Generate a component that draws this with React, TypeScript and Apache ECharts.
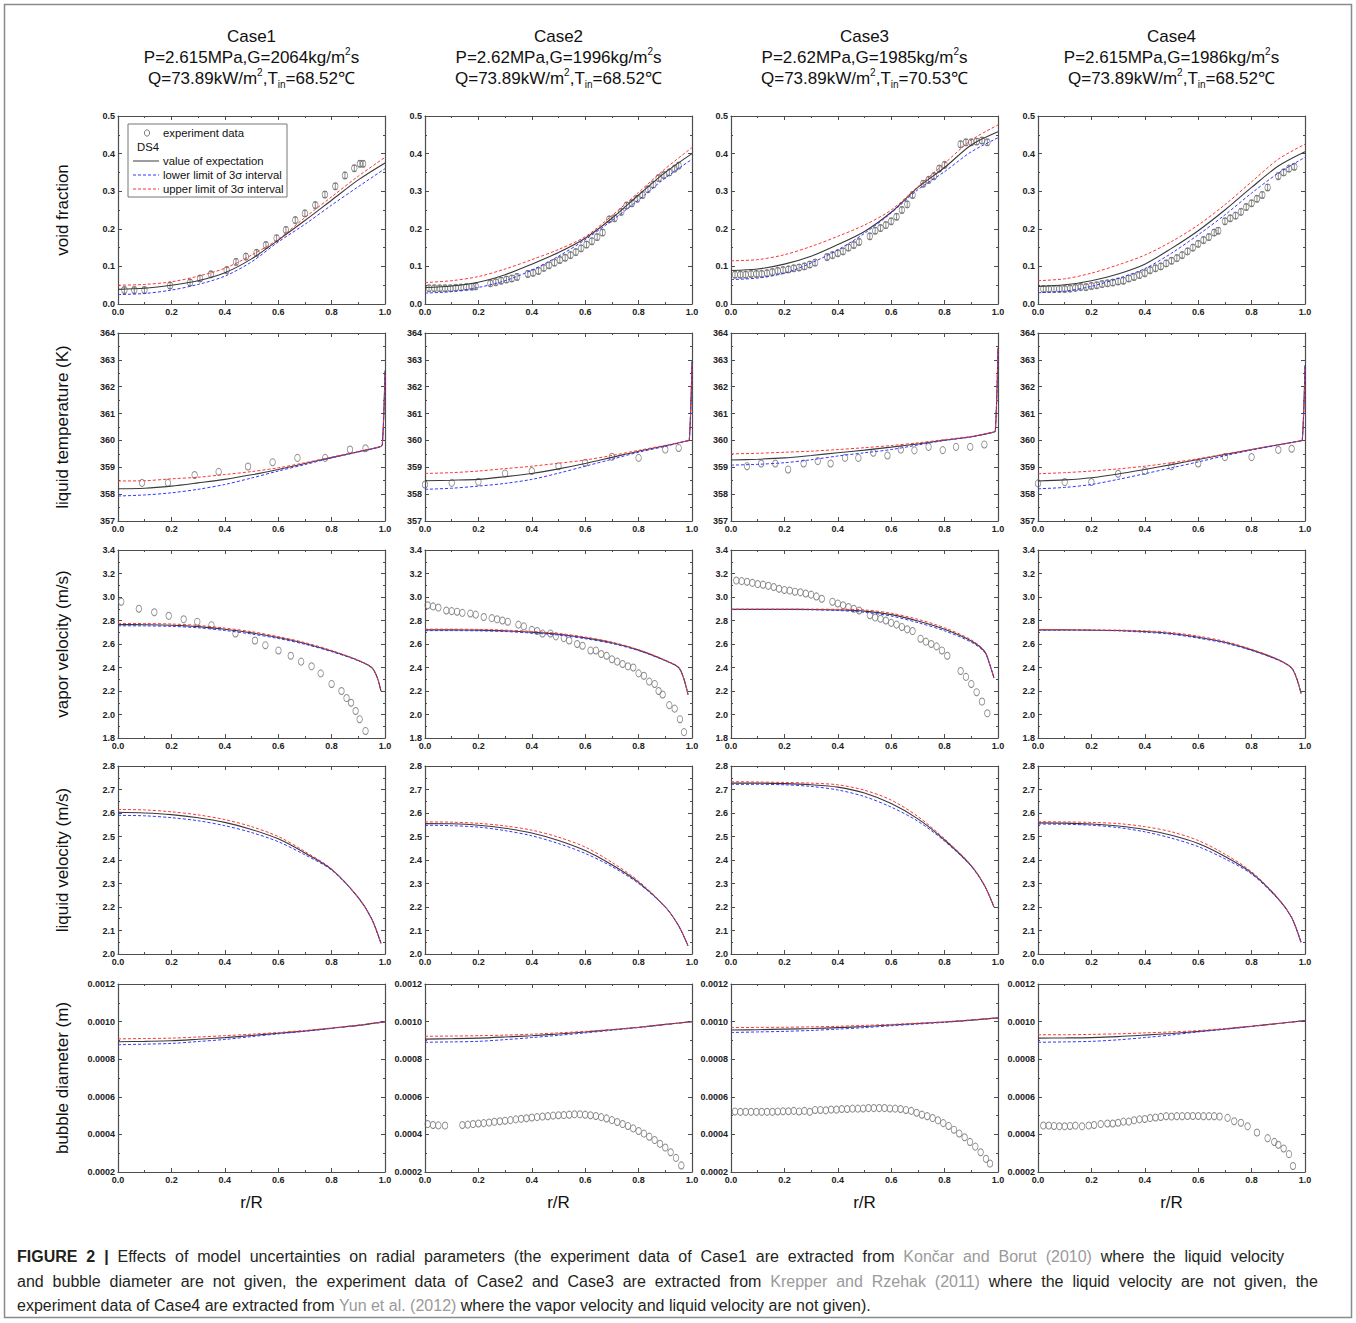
import React, { useEffect, useRef } from "react";
import * as echarts from "echarts";

const FONT = 'Arial, "Liberation Sans", Helvetica, sans-serif';

// ---------- column titles ----------
const CASE_NAMES = ["Case1", "Case2", "Case3", "Case4"];
const CASE_PG = ["P=2.615MPa,G=2064kg/m", "P=2.62MPa,G=1996kg/m", "P=2.62MPa,G=1985kg/m", "P=2.615MPa,G=1986kg/m"];
const CASE_Q = "Q=73.89kW/m";
const CASE_TIN = ["68.52", "68.52", "70.53", "68.52"];

// ---------- row definitions (axis titles & ticks) ----------
const ROW_NAMES = ["void fraction", "liquid temperature (K)", "vapor velocity (m/s)", "liquid velocity (m/s)", "bubble diameter (m)"];
const ROW_MIN = [0, 357, 1.8, 2.0, 0.0002];
const ROW_MAX = [0.5, 364, 3.4, 2.8, 0.0012];
const ROW_STEP = [0.1, 1, 0.2, 0.1, 0.0002];
const ROW_DEC = [1, 0, 1, 1, 4];
const X_TICKS_STEP = 0.2;

// ---------- radial positions of model curves ----------
const R_STD = [0, 0.1, 0.2, 0.3, 0.4, 0.5, 0.6, 0.7, 0.8, 0.9, 1.0];
const R_TEMP = [0, 0.1, 0.2, 0.3, 0.4, 0.5, 0.6, 0.7, 0.8, 0.9, 0.98, 0.99, 1.0];
const R_VAP = [0, 0.1, 0.2, 0.3, 0.4, 0.5, 0.6, 0.7, 0.8, 0.9, 0.95, 0.97, 0.985];
const R_LIQ = [0, 0.1, 0.2, 0.3, 0.4, 0.5, 0.6, 0.7, 0.8, 0.9, 0.95, 0.985];

// ---------- void fraction ----------
const voidExp1 = [0.039, 0.042, 0.05, 0.062, 0.083, 0.12, 0.17, 0.222, 0.276, 0.33, 0.375];
const voidLow1 = [0.025, 0.028, 0.037, 0.052, 0.074, 0.112, 0.165, 0.212, 0.263, 0.312, 0.36];
const voidUp1 = [0.05, 0.052, 0.059, 0.074, 0.095, 0.13, 0.172, 0.23, 0.285, 0.34, 0.39];
const voidExp2 = [0.044, 0.048, 0.058, 0.078, 0.106, 0.137, 0.175, 0.228, 0.29, 0.35, 0.4];
const voidLow2 = [0.029, 0.033, 0.044, 0.062, 0.09, 0.127, 0.171, 0.222, 0.277, 0.335, 0.385];
const voidUp2 = [0.057, 0.062, 0.073, 0.093, 0.118, 0.145, 0.179, 0.235, 0.297, 0.36, 0.416];
const voidExp3 = [0.089, 0.093, 0.106, 0.127, 0.158, 0.193, 0.244, 0.31, 0.363, 0.423, 0.458];
const voidLow3 = [0.065, 0.069, 0.082, 0.109, 0.144, 0.188, 0.242, 0.304, 0.352, 0.405, 0.442];
const voidUp3 = [0.115, 0.118, 0.131, 0.153, 0.18, 0.21, 0.25, 0.312, 0.374, 0.436, 0.476];
const voidExp4 = [0.047, 0.051, 0.062, 0.08, 0.106, 0.148, 0.195, 0.25, 0.31, 0.367, 0.405];
const voidLow4 = [0.03, 0.034, 0.047, 0.068, 0.094, 0.135, 0.184, 0.237, 0.295, 0.348, 0.39];
const voidUp4 = [0.062, 0.067, 0.082, 0.104, 0.13, 0.166, 0.21, 0.264, 0.325, 0.385, 0.425];

const voidDataX1 = [0.024, 0.061, 0.099, 0.195, 0.27, 0.307, 0.348, 0.407, 0.442, 0.479, 0.519, 0.554, 0.594, 0.629, 0.664, 0.7, 0.739, 0.775, 0.814, 0.85, 0.885, 0.906, 0.918];
const voidDataY1 = [0.037, 0.037, 0.037, 0.049, 0.057, 0.068, 0.079, 0.09, 0.112, 0.126, 0.136, 0.157, 0.175, 0.197, 0.223, 0.241, 0.263, 0.291, 0.313, 0.342, 0.361, 0.373, 0.373];
const voidDataX2 = [0.015, 0.035, 0.055, 0.075, 0.095, 0.115, 0.135, 0.155, 0.175, 0.19, 0.245, 0.265, 0.285, 0.305, 0.325, 0.345, 0.385, 0.405, 0.425, 0.445, 0.465, 0.485, 0.505, 0.525, 0.545, 0.565, 0.585, 0.605, 0.625, 0.645, 0.665, 0.69, 0.71, 0.735, 0.755, 0.775, 0.795, 0.815, 0.835, 0.855, 0.875, 0.895, 0.915, 0.935, 0.95];
const voidDataY2 = [0.042, 0.042, 0.042, 0.042, 0.042, 0.043, 0.044, 0.045, 0.046, 0.047, 0.055, 0.058, 0.062, 0.065, 0.068, 0.072, 0.08, 0.083, 0.088, 0.096, 0.103, 0.11, 0.117, 0.123, 0.13, 0.138, 0.148, 0.158, 0.167, 0.178, 0.19, 0.225, 0.228, 0.245, 0.262, 0.268, 0.28, 0.29, 0.305, 0.318, 0.335, 0.343, 0.35, 0.36, 0.368];
const voidDataX3 = [0.015, 0.035, 0.055, 0.075, 0.095, 0.115, 0.135, 0.155, 0.175, 0.195, 0.215, 0.235, 0.255, 0.275, 0.295, 0.315, 0.36, 0.38, 0.4, 0.42, 0.44, 0.46, 0.48, 0.52, 0.54, 0.56, 0.58, 0.6, 0.62, 0.64, 0.66, 0.68, 0.72, 0.74, 0.76, 0.78, 0.8, 0.86, 0.88, 0.9, 0.92, 0.94, 0.96];
const voidDataY3 = [0.078, 0.078, 0.078, 0.08, 0.08, 0.08, 0.082, 0.085, 0.088, 0.09, 0.092, 0.095, 0.097, 0.1, 0.105, 0.11, 0.125, 0.13, 0.135, 0.14, 0.15, 0.157, 0.165, 0.18, 0.195, 0.202, 0.21, 0.22, 0.232, 0.25, 0.265, 0.29, 0.32, 0.33, 0.34, 0.36, 0.37, 0.425, 0.43, 0.43, 0.432, 0.435, 0.43];
const voidDataX4 = [0.02, 0.04, 0.06, 0.08, 0.1, 0.12, 0.14, 0.16, 0.18, 0.2, 0.22, 0.24, 0.26, 0.28, 0.3, 0.32, 0.34, 0.36, 0.38, 0.4, 0.42, 0.44, 0.46, 0.48, 0.5, 0.52, 0.54, 0.56, 0.58, 0.6, 0.62, 0.64, 0.66, 0.675, 0.7, 0.72, 0.74, 0.76, 0.78, 0.8, 0.82, 0.84, 0.86, 0.9, 0.92, 0.94, 0.96];
const voidDataY4 = [0.04, 0.04, 0.04, 0.04, 0.04, 0.041, 0.043, 0.045, 0.045, 0.048, 0.05, 0.053, 0.055, 0.057, 0.06, 0.062, 0.068, 0.072, 0.077, 0.082, 0.09, 0.095, 0.1, 0.108, 0.115, 0.122, 0.13, 0.14, 0.15, 0.16, 0.17, 0.178, 0.19, 0.195, 0.22, 0.228, 0.235, 0.245, 0.258, 0.268, 0.28, 0.29, 0.31, 0.34, 0.35, 0.36, 0.365];
const VOID_ERR = 0.008;

// ---------- liquid temperature ----------
const tempExp1 = [358.2, 358.22, 358.3, 358.42, 358.55, 358.72, 358.92, 359.14, 359.36, 359.58, 359.76, 359.84, 362.6];
const tempLow1 = [357.93, 357.97, 358.05, 358.18, 358.36, 358.6, 358.86, 359.1, 359.35, 359.57, 359.76, 359.84, 362.5];
const tempUp1 = [358.49, 358.5, 358.57, 358.63, 358.73, 358.84, 358.98, 359.17, 359.38, 359.59, 359.76, 359.84, 362.5];
const tempExp2 = [358.5, 358.52, 358.55, 358.65, 358.77, 358.94, 359.14, 359.37, 359.6, 359.8, 359.98, 360.02, 362.95];
const tempLow2 = [358.18, 358.22, 358.3, 358.4, 358.55, 358.78, 359.04, 359.3, 359.56, 359.78, 359.98, 360.02, 362.9];
const tempUp2 = [358.77, 358.8, 358.86, 358.95, 359.04, 359.15, 359.27, 359.44, 359.63, 359.82, 359.98, 360.02, 362.9];
const tempExp3 = [359.27, 359.3, 359.35, 359.44, 359.54, 359.64, 359.75, 359.87, 360.01, 360.14, 360.3, 360.35, 363.45];
const tempLow3 = [359.08, 359.11, 359.17, 359.28, 359.42, 359.54, 359.66, 359.83, 360.0, 360.13, 360.3, 360.35, 363.4];
const tempUp3 = [359.5, 359.52, 359.56, 359.6, 359.66, 359.73, 359.81, 359.91, 360.03, 360.15, 360.3, 360.35, 363.4];
const tempExp4 = [358.49, 358.53, 358.61, 358.75, 358.92, 359.1, 359.29, 359.48, 359.66, 359.84, 359.98, 360.02, 362.8];
const tempLow4 = [358.2, 358.25, 358.36, 358.55, 358.76, 358.98, 359.2, 359.43, 359.64, 359.83, 359.98, 360.02, 362.75];
const tempUp4 = [358.76, 358.8, 358.86, 358.94, 359.04, 359.17, 359.32, 359.49, 359.66, 359.84, 359.98, 360.02, 362.75];

const tempDataX1 = [0.09, 0.187, 0.287, 0.377, 0.487, 0.579, 0.672, 0.776, 0.869, 0.927];
const tempDataY1 = [358.42, 358.42, 358.71, 358.83, 359.03, 359.19, 359.35, 359.35, 359.66, 359.71];
const tempDataX2 = [0.0, 0.1, 0.2, 0.3, 0.4, 0.5, 0.6, 0.7, 0.8, 0.9, 0.95];
const tempDataY2 = [358.36, 358.42, 358.46, 358.77, 358.86, 359.04, 359.17, 359.39, 359.35, 359.66, 359.72];
const tempDataX3 = [0.06, 0.113, 0.166, 0.214, 0.272, 0.325, 0.373, 0.427, 0.477, 0.533, 0.586, 0.636, 0.687, 0.74, 0.793, 0.843, 0.896, 0.949];
const tempDataY3 = [359.04, 359.14, 359.14, 358.92, 359.14, 359.23, 359.14, 359.35, 359.35, 359.54, 359.44, 359.66, 359.63, 359.76, 359.64, 359.76, 359.76, 359.85];
const tempDataX4 = [0.0, 0.1, 0.2, 0.3, 0.4, 0.5, 0.6, 0.7, 0.8, 0.9, 0.95];
const tempDataY4 = [358.4, 358.45, 358.45, 358.76, 358.86, 359.04, 359.14, 359.38, 359.38, 359.65, 359.69];

// ---------- vapor velocity ----------
const vapExp1 = [2.765, 2.764, 2.76, 2.748, 2.725, 2.695, 2.655, 2.605, 2.54, 2.46, 2.4, 2.32, 2.2];
const vapLow1 = [2.755, 2.754, 2.75, 2.738, 2.715, 2.685, 2.647, 2.598, 2.535, 2.458, 2.4, 2.32, 2.2];
const vapUp1 = [2.775, 2.774, 2.77, 2.758, 2.735, 2.705, 2.663, 2.612, 2.545, 2.462, 2.4, 2.32, 2.2];
const vapExp2 = [2.72, 2.72, 2.718, 2.712, 2.7, 2.683, 2.652, 2.61, 2.548, 2.46, 2.4, 2.3, 2.17];
const vapLow2 = [2.714, 2.714, 2.712, 2.706, 2.693, 2.676, 2.645, 2.604, 2.544, 2.458, 2.4, 2.3, 2.17];
const vapUp2 = [2.726, 2.726, 2.724, 2.718, 2.707, 2.69, 2.659, 2.616, 2.552, 2.462, 2.4, 2.3, 2.17];
const vapExp3 = [2.895, 2.895, 2.895, 2.894, 2.89, 2.88, 2.85, 2.795, 2.725, 2.625, 2.535, 2.42, 2.31];
const vapLow3 = [2.893, 2.893, 2.893, 2.891, 2.885, 2.87, 2.838, 2.782, 2.712, 2.615, 2.53, 2.42, 2.31];
const vapUp3 = [2.897, 2.897, 2.897, 2.897, 2.895, 2.89, 2.862, 2.81, 2.738, 2.635, 2.54, 2.42, 2.31];
const vapExp4 = [2.72, 2.72, 2.718, 2.715, 2.706, 2.69, 2.658, 2.615, 2.55, 2.465, 2.395, 2.3, 2.18];
const vapLow4 = [2.718, 2.718, 2.716, 2.712, 2.7, 2.683, 2.65, 2.608, 2.545, 2.462, 2.395, 2.3, 2.18];
const vapUp4 = [2.722, 2.722, 2.72, 2.718, 2.712, 2.697, 2.667, 2.622, 2.555, 2.468, 2.395, 2.3, 2.18];

const vapDataX1 = [0.012, 0.078, 0.136, 0.19, 0.246, 0.297, 0.35, 0.44, 0.513, 0.552, 0.601, 0.647, 0.686, 0.725, 0.759, 0.8, 0.837, 0.856, 0.873, 0.89, 0.905, 0.927];
const vapDataY1 = [2.96, 2.9, 2.87, 2.84, 2.81, 2.79, 2.76, 2.69, 2.63, 2.59, 2.545, 2.5, 2.45, 2.41, 2.35, 2.26, 2.2, 2.14, 2.1, 2.03, 1.96, 1.86];
const vapDataX2 = [0.01, 0.03, 0.05, 0.08, 0.1, 0.12, 0.14, 0.17, 0.19, 0.22, 0.25, 0.27, 0.29, 0.31, 0.35, 0.37, 0.4, 0.42, 0.44, 0.47, 0.49, 0.52, 0.54, 0.57, 0.59, 0.62, 0.64, 0.66, 0.68, 0.7, 0.72, 0.74, 0.76, 0.78, 0.8, 0.82, 0.84, 0.86, 0.875, 0.89, 0.915, 0.935, 0.955, 0.97];
const vapDataY2 = [2.93, 2.92, 2.91, 2.885, 2.88, 2.875, 2.865, 2.86, 2.85, 2.83, 2.82, 2.81, 2.8, 2.79, 2.765, 2.75, 2.72, 2.71, 2.69, 2.69, 2.665, 2.65, 2.63, 2.6, 2.585, 2.545, 2.545, 2.515, 2.5, 2.47, 2.45, 2.43, 2.41, 2.4, 2.35, 2.33, 2.28, 2.26, 2.2, 2.17, 2.08, 2.05, 1.96, 1.85];
const vapDataX3 = [0.02, 0.04, 0.06, 0.08, 0.1, 0.12, 0.14, 0.16, 0.18, 0.2, 0.22, 0.24, 0.26, 0.28, 0.3, 0.32, 0.34, 0.38, 0.4, 0.42, 0.44, 0.46, 0.48, 0.52, 0.54, 0.56, 0.58, 0.6, 0.62, 0.64, 0.66, 0.68, 0.71, 0.73, 0.75, 0.77, 0.79, 0.81, 0.86, 0.88, 0.9, 0.92, 0.94, 0.96];
const vapDataY3 = [3.14, 3.135, 3.13, 3.12, 3.11, 3.105, 3.095, 3.085, 3.07, 3.06, 3.055, 3.045, 3.04, 3.03, 3.02, 3.005, 2.985, 2.96, 2.945, 2.93, 2.915, 2.9, 2.885, 2.845, 2.825, 2.815, 2.8, 2.78, 2.765, 2.745, 2.725, 2.71, 2.645, 2.62, 2.6, 2.58, 2.545, 2.5, 2.37, 2.32, 2.26, 2.19, 2.11, 2.01];

// ---------- liquid velocity ----------
const liqExp1 = [2.603, 2.6, 2.593, 2.58, 2.56, 2.53, 2.49, 2.43, 2.36, 2.24, 2.15, 2.045];
const liqLow1 = [2.59, 2.588, 2.58, 2.567, 2.546, 2.517, 2.478, 2.422, 2.357, 2.24, 2.15, 2.045];
const liqUp1 = [2.615, 2.613, 2.605, 2.592, 2.572, 2.542, 2.5, 2.436, 2.362, 2.24, 2.15, 2.045];
const liqExp2 = [2.555, 2.554, 2.548, 2.535, 2.515, 2.483, 2.44, 2.38, 2.305, 2.2, 2.12, 2.035];
const liqLow2 = [2.548, 2.546, 2.54, 2.525, 2.503, 2.47, 2.428, 2.372, 2.3, 2.2, 2.12, 2.035];
const liqUp2 = [2.562, 2.561, 2.556, 2.545, 2.527, 2.497, 2.455, 2.39, 2.31, 2.2, 2.12, 2.035];
const liqExp3 = [2.727, 2.727, 2.725, 2.72, 2.71, 2.685, 2.64, 2.575, 2.485, 2.375, 2.29, 2.2];
const liqLow3 = [2.722, 2.722, 2.72, 2.713, 2.698, 2.67, 2.625, 2.565, 2.48, 2.373, 2.29, 2.2];
const liqUp3 = [2.733, 2.732, 2.73, 2.727, 2.72, 2.697, 2.655, 2.585, 2.49, 2.377, 2.29, 2.2];
const liqExp4 = [2.558, 2.557, 2.553, 2.545, 2.53, 2.505, 2.47, 2.415, 2.345, 2.235, 2.155, 2.05];
const liqLow4 = [2.553, 2.552, 2.548, 2.538, 2.52, 2.493, 2.457, 2.405, 2.34, 2.233, 2.155, 2.05];
const liqUp4 = [2.563, 2.562, 2.56, 2.555, 2.542, 2.52, 2.483, 2.425, 2.35, 2.237, 2.155, 2.05];

// ---------- bubble diameter ----------
const bubExp1 = [0.000893, 0.000895, 0.000898, 0.000906, 0.000915, 0.000926, 0.000938, 0.00095, 0.000965, 0.00098, 0.001];
const bubLow1 = [0.000877, 0.00088, 0.000884, 0.000894, 0.000905, 0.00092, 0.000935, 0.000948, 0.000964, 0.00098, 0.000998];
const bubUp1 = [0.000908, 0.00091, 0.000912, 0.000918, 0.000925, 0.000933, 0.000942, 0.000953, 0.000966, 0.000981, 0.001];
const bubExp2 = [0.000907, 0.000909, 0.000912, 0.000918, 0.000925, 0.000934, 0.000945, 0.000957, 0.00097, 0.000985, 0.001];
const bubLow2 = [0.00089, 0.000892, 0.000895, 0.000904, 0.000915, 0.000927, 0.00094, 0.000954, 0.000968, 0.000984, 0.001];
const bubUp2 = [0.000922, 0.000923, 0.000925, 0.000928, 0.000933, 0.00094, 0.000948, 0.000958, 0.00097, 0.000985, 0.001];
const bubExp3 = [0.000955, 0.000957, 0.00096, 0.000963, 0.000968, 0.000974, 0.000982, 0.00099, 0.000998, 0.001008, 0.00102];
const bubLow3 = [0.000942, 0.000945, 0.000948, 0.000953, 0.00096, 0.000968, 0.000978, 0.000987, 0.000996, 0.001007, 0.00102];
const bubUp3 = [0.000968, 0.000969, 0.00097, 0.000972, 0.000975, 0.00098, 0.000985, 0.000992, 0.000999, 0.001009, 0.00102];
const bubExp4 = [0.000912, 0.000913, 0.000915, 0.00092, 0.000928, 0.000937, 0.000948, 0.000961, 0.000975, 0.00099, 0.001005];
const bubLow4 = [0.00089, 0.000892, 0.000895, 0.000903, 0.000915, 0.000929, 0.000945, 0.000959, 0.000974, 0.00099, 0.001005];
const bubUp4 = [0.00093, 0.00093, 0.000932, 0.000935, 0.00094, 0.000945, 0.000952, 0.000963, 0.000976, 0.00099, 0.001005];

const bubDataX2 = [0.01, 0.03, 0.05, 0.075, 0.14, 0.16, 0.18, 0.2, 0.22, 0.24, 0.26, 0.28, 0.3, 0.32, 0.34, 0.36, 0.38, 0.4, 0.42, 0.44, 0.46, 0.48, 0.5, 0.52, 0.54, 0.56, 0.58, 0.6, 0.62, 0.64, 0.66, 0.68, 0.7, 0.72, 0.74, 0.76, 0.78, 0.8, 0.82, 0.84, 0.86, 0.88, 0.9, 0.92, 0.94, 0.96];
const bubDataY2 = [0.000455, 0.00045, 0.000448, 0.000447, 0.00045, 0.000452, 0.000455, 0.000458, 0.00046, 0.000463, 0.000467, 0.00047, 0.000473, 0.000476, 0.00048, 0.000483, 0.000486, 0.00049, 0.000492, 0.000495, 0.000497, 0.0005, 0.000502, 0.000503, 0.000505, 0.000507, 0.000507, 0.000505, 0.000502, 0.000498, 0.000492, 0.000485, 0.000476, 0.000466, 0.000455, 0.000445, 0.000432, 0.000418, 0.000404, 0.000388, 0.00037, 0.00035, 0.00033, 0.000305, 0.000275, 0.000235];
const bubDataX3 = [0.015, 0.035, 0.055, 0.075, 0.095, 0.115, 0.135, 0.155, 0.175, 0.195, 0.215, 0.235, 0.255, 0.275, 0.295, 0.315, 0.335, 0.355, 0.375, 0.395, 0.415, 0.435, 0.455, 0.475, 0.495, 0.515, 0.535, 0.555, 0.575, 0.595, 0.615, 0.635, 0.655, 0.675, 0.695, 0.715, 0.735, 0.755, 0.775, 0.795, 0.815, 0.835, 0.855, 0.875, 0.895, 0.915, 0.935, 0.955, 0.97];
const bubDataY3 = [0.000522, 0.00052, 0.00052, 0.00052, 0.00052, 0.00052, 0.00052, 0.00052, 0.000522, 0.000523, 0.000523, 0.000525, 0.000522, 0.000525, 0.00052, 0.00053, 0.00053, 0.000528, 0.000532, 0.000532, 0.000535, 0.000535, 0.000537, 0.000537, 0.000538, 0.00054, 0.00054, 0.00054, 0.00054, 0.000538, 0.000537, 0.000535, 0.00053, 0.000525, 0.000515, 0.000505, 0.000497, 0.000487, 0.000475, 0.00046, 0.000445, 0.000425, 0.000405, 0.000385, 0.00036, 0.000335, 0.000305, 0.00027, 0.000245];
const bubDataX4 = [0.02, 0.04, 0.06, 0.08, 0.1, 0.12, 0.14, 0.165, 0.19, 0.21, 0.235, 0.26, 0.28, 0.3, 0.32, 0.34, 0.36, 0.38, 0.4, 0.42, 0.44, 0.46, 0.48, 0.5, 0.52, 0.54, 0.56, 0.58, 0.6, 0.62, 0.64, 0.66, 0.68, 0.71, 0.735, 0.76, 0.785, 0.82, 0.86, 0.885, 0.9, 0.92, 0.94, 0.955];
const bubDataY4 = [0.000447, 0.000447, 0.000445, 0.000443, 0.000443, 0.000445, 0.000447, 0.000443, 0.000447, 0.00045, 0.000455, 0.000458, 0.000458, 0.000462, 0.000468, 0.000468, 0.000475, 0.00048, 0.000482, 0.000487, 0.00049, 0.000493, 0.000497, 0.000495, 0.000497, 0.000497, 0.000498, 0.000498, 0.000498, 0.000497, 0.000497, 0.000497, 0.000495, 0.000488, 0.00047, 0.000462, 0.000443, 0.00041, 0.00038, 0.00036, 0.000345, 0.000325, 0.000295, 0.000232];

// ---------- legend & caption texts ----------
const LEGEND_LABELS = ["experiment data", "DS4", "value of expectation", "lower limit of 3σ interval", "upper limit of 3σ interval"];
const CAPTION_1 = "{b|FIGURE 2 |} Effects of model uncertainties on radial parameters (the experiment data of Case1 are extracted from {g|Končar and Borut (2010)} where the liquid velocity";
const CAPTION_2 = "and bubble diameter are not given, the experiment data of Case2 and Case3 are extracted from {g|Krepper and Rzehak (2011)} where the liquid velocity are not given, the";
const CAPTION_3 = "experiment data of Case4 are extracted from {g|Yun et al. (2012)} where the vapor velocity and liquid velocity are not given).";

// ---------- assembled tables ----------
const CURVE_X = [R_STD, R_TEMP, R_VAP, R_LIQ, R_STD];
const CURVE_EXP = [
  [voidExp1, voidExp2, voidExp3, voidExp4],
  [tempExp1, tempExp2, tempExp3, tempExp4],
  [vapExp1, vapExp2, vapExp3, vapExp4],
  [liqExp1, liqExp2, liqExp3, liqExp4],
  [bubExp1, bubExp2, bubExp3, bubExp4],
];
const CURVE_LOW = [
  [voidLow1, voidLow2, voidLow3, voidLow4],
  [tempLow1, tempLow2, tempLow3, tempLow4],
  [vapLow1, vapLow2, vapLow3, vapLow4],
  [liqLow1, liqLow2, liqLow3, liqLow4],
  [bubLow1, bubLow2, bubLow3, bubLow4],
];
const CURVE_UP = [
  [voidUp1, voidUp2, voidUp3, voidUp4],
  [tempUp1, tempUp2, tempUp3, tempUp4],
  [vapUp1, vapUp2, vapUp3, vapUp4],
  [liqUp1, liqUp2, liqUp3, liqUp4],
  [bubUp1, bubUp2, bubUp3, bubUp4],
];
const DATA_X: (number[] | null)[][] = [
  [voidDataX1, voidDataX2, voidDataX3, voidDataX4],
  [tempDataX1, tempDataX2, tempDataX3, tempDataX4],
  [vapDataX1, vapDataX2, vapDataX3, null],
  [null, null, null, null],
  [null, bubDataX2, bubDataX3, bubDataX4],
];
const DATA_Y: (number[] | null)[][] = [
  [voidDataY1, voidDataY2, voidDataY3, voidDataY4],
  [tempDataY1, tempDataY2, tempDataY3, tempDataY4],
  [vapDataY1, vapDataY2, vapDataY3, null],
  [null, null, null, null],
  [null, bubDataY2, bubDataY3, bubDataY4],
];

// ---------- layout ----------
const COL_LEFT = [118, 425, 731, 1038];
const ROW_TOP = [116, 333, 550, 766, 984];
const PW = 267;
const PH = 188;
const AXIS_COLOR = "#4d4d4d";
const C_EXP = "#3a3a3a";
const C_LOW = "#3535ff";
const C_UP = "#ff3535";
const C_DATA = "#6e6e6e";

const zip = (xs: number[], ys: number[]) => xs.map((x, i) => [x, ys[i]]);
// justified caption lines: widen inter-word spacing
const justify = (s: string) => s.split(" ").join("  ");

function buildOption() {
  const grid: any[] = [];
  const xAxis: any[] = [];
  const yAxis: any[] = [];
  const series: any[] = [];
  const lineStyle = { color: AXIS_COLOR, width: 1.2 };
  const tickStyle = { color: AXIS_COLOR, width: 1 };
  const labelStyle = { fontSize: 9, fontWeight: "bold", color: "#222", fontFamily: FONT };

  for (let r = 0; r < 5; r++) {
    for (let c = 0; c < 4; c++) {
      const g = r * 4 + c;
      grid.push({ left: COL_LEFT[c], top: ROW_TOP[r], width: PW, height: PH });
      const xCommon = {
        type: "value", gridIndex: g, min: 0, max: 1, interval: X_TICKS_STEP,
        axisLine: { show: true, onZero: false, lineStyle },
        axisTick: { show: true, inside: true, length: 4, lineStyle: tickStyle },
        minorTick: { show: true, splitNumber: 2, length: 2, lineStyle: tickStyle },
        splitLine: { show: false },
      };
      xAxis.push({
        ...xCommon, position: "bottom",
        axisLabel: { ...labelStyle, margin: 3, formatter: (v: number) => v.toFixed(1) },
        name: r === 4 ? "r/R" : "", nameLocation: "middle", nameGap: 22,
        nameTextStyle: { fontSize: 17, color: "#111", fontFamily: FONT },
      });
      xAxis.push({ ...xCommon, position: "top", axisLabel: { show: false } });
      const yCommon = {
        type: "value", gridIndex: g, min: ROW_MIN[r], max: ROW_MAX[r], interval: ROW_STEP[r],
        axisLine: { show: true, onZero: false, lineStyle },
        axisTick: { show: true, inside: true, length: 4, lineStyle: tickStyle },
        minorTick: { show: true, splitNumber: 2, length: 2, lineStyle: tickStyle },
        splitLine: { show: false },
      };
      const dec = ROW_DEC[r];
      yAxis.push({
        ...yCommon, position: "left",
        axisLabel: { ...labelStyle, margin: 3, formatter: (v: number) => v.toFixed(dec) },
        name: c === 0 ? ROW_NAMES[r] : "", nameLocation: "middle", nameRotate: 90, nameGap: 47,
        nameTextStyle: { fontSize: 17, color: "#111", fontFamily: FONT },
      });
      yAxis.push({ ...yCommon, position: "right", axisLabel: { show: false } });

      const xi = 2 * g;
      const xs = CURVE_X[r];
      const common = { type: "line", xAxisIndex: xi, yAxisIndex: xi, symbol: "none", showSymbol: false, smooth: 0.3, silent: true, clip: true };
      series.push({ ...common, name: "exp", data: zip(xs, CURVE_EXP[r][c]), lineStyle: { color: C_EXP, width: 1.1 }, z: 3 });
      series.push({ ...common, name: "low", data: zip(xs, CURVE_LOW[r][c]), lineStyle: { color: C_LOW, width: 1, type: [3, 2] }, z: 4 });
      series.push({ ...common, name: "up", data: zip(xs, CURVE_UP[r][c]), lineStyle: { color: C_UP, width: 1, type: [3, 2] }, z: 5 });

      const dx = DATA_X[r][c];
      const dy = DATA_Y[r][c];
      if (dx && dy) {
        series.push({
          type: "scatter", xAxisIndex: xi, yAxisIndex: xi, silent: true,
          symbol: "circle", symbolSize: [5.5, 7],
          itemStyle: { color: "rgba(0,0,0,0)", borderColor: C_DATA, borderWidth: 0.9 },
          data: zip(dx, dy), z: 2,
        });
        if (r === 0) {
          series.push({
            type: "custom", xAxisIndex: xi, yAxisIndex: xi, silent: true, z: 2,
            encode: { x: 0, y: 1 },
            data: dx.map((x, i) => [x, dy[i], VOID_ERR]),
            renderItem: (params: any, api: any) => {
              const x = api.value(0);
              const y = api.value(1);
              const e = api.value(2);
              const p1 = api.coord([x, y + e]);
              const p2 = api.coord([x, y - e]);
              const st = { stroke: C_DATA, lineWidth: 0.8 };
              return {
                type: "group",
                children: [
                  { type: "line", shape: { x1: p1[0], y1: p1[1], x2: p2[0], y2: p2[1] }, style: st },
                  { type: "line", shape: { x1: p1[0] - 2, y1: p1[1], x2: p1[0] + 2, y2: p1[1] }, style: st },
                  { type: "line", shape: { x1: p2[0] - 2, y1: p2[1], x2: p2[0] + 2, y2: p2[1] }, style: st },
                ],
              };
            },
          });
        }
      }
    }
  }

  const graphic: any[] = [];
  // outer frame
  graphic.push({ type: "rect", shape: { x: 4.5, y: 4.5, width: 1347, height: 1313 }, style: { fill: "none", stroke: "#8a8a8a", lineWidth: 1.5 }, silent: true });
  // column titles
  const titleRich = {
    sup: { fontSize: 10, lineHeight: 22, verticalAlign: "top", fontFamily: FONT, fill: "#111" },
    sub: { fontSize: 10, lineHeight: 22, verticalAlign: "bottom", fontFamily: FONT, fill: "#111" },
  };
  for (let c = 0; c < 4; c++) {
    const cx = COL_LEFT[c] + PW / 2;
    const base = { fontSize: 17, fontFamily: FONT, fill: "#111", align: "center", textAlign: "center", verticalAlign: "middle", textVerticalAlign: "middle", lineHeight: 22 };
    graphic.push({ type: "text", x: cx, y: 36, style: { ...base, text: CASE_NAMES[c] }, silent: true });
    graphic.push({ type: "text", x: cx, y: 57, style: { ...base, text: CASE_PG[c] + "{sup|2}s", rich: titleRich }, silent: true });
    graphic.push({ type: "text", x: cx, y: 78, style: { ...base, text: CASE_Q + "{sup|2},T{sub|in}=" + CASE_TIN[c] + "℃", rich: titleRich }, silent: true });
  }
  // legend inside first panel
  const lx = 128, ly = 124;
  const lt = { fontSize: 11.3, fontFamily: FONT, fill: "#111", verticalAlign: "middle", textVerticalAlign: "middle", align: "left", textAlign: "left" };
  graphic.push({ type: "rect", shape: { x: lx, y: ly, width: 159, height: 73 }, style: { fill: "#fff", stroke: "#777", lineWidth: 1 }, z: 100, silent: true });
  graphic.push({ type: "ellipse", shape: { cx: 147, cy: 133, rx: 2.6, ry: 3.2 }, style: { fill: "none", stroke: C_DATA, lineWidth: 0.9 }, z: 101, silent: true });
  graphic.push({ type: "text", x: 163, y: 133, style: { ...lt, text: LEGEND_LABELS[0] }, z: 101, silent: true });
  graphic.push({ type: "text", x: 137, y: 147, style: { ...lt, text: LEGEND_LABELS[1] }, z: 101, silent: true });
  const sampleY = [161, 175, 189];
  const sampleCol = [C_EXP, C_LOW, C_UP];
  for (let i = 0; i < 3; i++) {
    graphic.push({
      type: "line", shape: { x1: 133, y1: sampleY[i], x2: 159, y2: sampleY[i] },
      style: { stroke: sampleCol[i], lineWidth: 1, lineDash: i === 0 ? null : [3, 2] }, z: 101, silent: true,
    });
    graphic.push({ type: "text", x: 163, y: sampleY[i], style: { ...lt, text: LEGEND_LABELS[i + 2] }, z: 101, silent: true });
  }
  // caption
  const capRich = {
    b: { fontSize: 16, fontWeight: "bold", fill: "#231f20", fontFamily: FONT },
    g: { fontSize: 16, fill: "#9a9a9a", fontFamily: FONT },
  };
  const capBase = { fontSize: 16, fontFamily: FONT, fill: "#231f20", align: "left", textAlign: "left", verticalAlign: "middle", textVerticalAlign: "middle", rich: capRich };
  graphic.push({ type: "text", x: 17, y: 1256, style: { ...capBase, text: justify(CAPTION_1) }, silent: true });
  graphic.push({ type: "text", x: 17, y: 1281, style: { ...capBase, text: justify(CAPTION_2) }, silent: true });
  graphic.push({ type: "text", x: 17, y: 1305, style: { ...capBase, text: CAPTION_3 }, silent: true });

  return {
    animation: false,
    backgroundColor: "#ffffff",
    textStyle: { fontFamily: FONT },
    grid,
    xAxis,
    yAxis,
    series,
    graphic: { elements: graphic },
  };
}

export default function App() {
  const ref = useRef<HTMLDivElement>(null);
  useEffect(() => {
    if (!ref.current) return;
    const chart = echarts.init(ref.current, undefined, { renderer: "svg" });
    chart.setOption(buildOption() as any);
    return () => chart.dispose();
  }, []);
  return (
    <div
      ref={ref}
      style={{ position: "absolute", left: 0, top: 0, width: 1356, height: 1323, background: "#fff" }}
    />
  );
}
